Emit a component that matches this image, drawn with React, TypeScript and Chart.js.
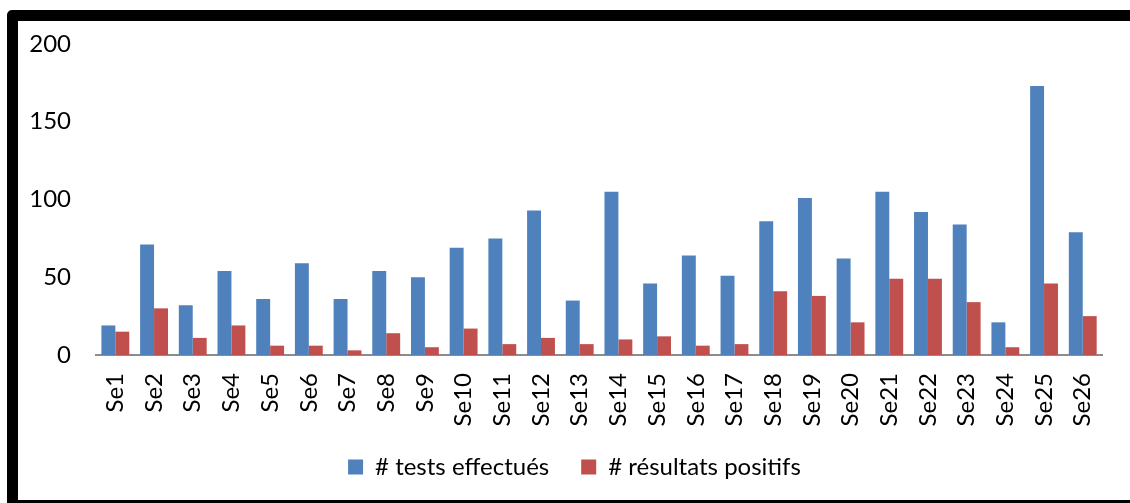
import React, { useEffect, useRef } from "react";
import { Chart, registerables } from "chart.js";

Chart.register(...registerables);

const categories = [
  "Se1", "Se2", "Se3", "Se4", "Se5", "Se6", "Se7", "Se8", "Se9", "Se10",
  "Se11", "Se12", "Se13", "Se14", "Se15", "Se16", "Se17", "Se18", "Se19", "Se20",
  "Se21", "Se22", "Se23", "Se24", "Se25", "Se26",
];
const testsEffectues = [19, 71, 32, 54, 36, 59, 36, 54, 50, 69, 75, 93, 35, 105, 46, 64, 51, 86, 101, 62, 105, 92, 84, 21, 173, 79];
const resultatsPositifs = [15, 30, 11, 19, 6, 6, 3, 14, 5, 17, 7, 11, 7, 10, 12, 6, 7, 41, 38, 21, 49, 49, 34, 5, 46, 25];
const seriesNames = ["# tests effectués", "# résultats positifs"];
const yMin = 0;
const yMax = 200;
const yStep = 50;

const FONT = "Lato, 'Open Sans', sans-serif";
const W = 1130;
const H = 503;
const LEGEND_PAD = 32;
const X_AXIS_H = 76;

// Nudges the legend box so its centre sits where the reference places it.
const legendShift = {
  id: "legendShift",
  afterLayout(chart: any) {
    const lg = chart.legend;
    if (!lg) return;
    lg.left += 21;
    lg.right += 21;
    lg.top -= 8;
    lg.bottom -= 8;
  },
};

export default function App() {
  const ref = useRef<HTMLCanvasElement | null>(null);

  useEffect(() => {
    if (!ref.current) return;
    const chart = new Chart(ref.current, {
      type: "bar",
      data: {
        labels: categories,
        datasets: [
          {
            label: seriesNames[0],
            data: testsEffectues,
            backgroundColor: "#4F81BD",
            borderWidth: 0,
            categoryPercentage: 0.72,
            barPercentage: 1.0,
          },
          {
            label: seriesNames[1],
            data: resultatsPositifs,
            backgroundColor: "#C0504D",
            borderWidth: 0,
            categoryPercentage: 0.72,
            barPercentage: 1.0,
          },
        ],
      },
      plugins: [legendShift],
      options: {
        responsive: false,
        animation: false,
        layout: { padding: { left: 0, right: 23, top: 44, bottom: 503 - 355 - X_AXIS_H - (34 + LEGEND_PAD) } },
        plugins: {
          tooltip: { enabled: false },
          legend: {
            position: "bottom",
            labels: {
              boxWidth: 15,
              boxHeight: 15,
              padding: LEGEND_PAD,
              color: "#000",
              font: { family: FONT, size: 24 },
            },
          },
        },
        scales: {
          x: {
            grid: { display: false, drawTicks: false },
            border: { display: true, color: "#8C8C8C", width: 2 },
            ticks: {
              autoSkip: false,
              minRotation: 90,
              maxRotation: 90,
              padding: 18,
              color: "#000",
              font: { family: FONT, size: 24 },
            },
            afterFit: (scale: any) => {
              scale.height = X_AXIS_H;
            },
          },
          y: {
            min: yMin,
            max: yMax,
            grid: { display: false, drawTicks: false },
            border: { display: false },
            ticks: {
              stepSize: yStep,
              padding: 25,
              color: "#000",
              font: { family: FONT, size: 24 },
            },
            afterFit: (scale: any) => {
              scale.width = 96;
            },
          },
        },
      },
    });
    return () => chart.destroy();
  }, []);

  return (
    <div style={{ position: "fixed", left: 0, top: 0, width: W, height: H, background: "#fff", overflow: "hidden" }}>
      <canvas ref={ref} width={W} height={H} style={{ position: "absolute", left: 0, top: 0, width: W, height: H }} />
      <div
        style={{
          position: "absolute",
          left: 7,
          top: 10,
          right: -20,
          bottom: -8,
          border: "11px solid #000",
          borderTopLeftRadius: 5,
          boxSizing: "border-box",
          pointerEvents: "none",
        }}
      />
    </div>
  );
}
